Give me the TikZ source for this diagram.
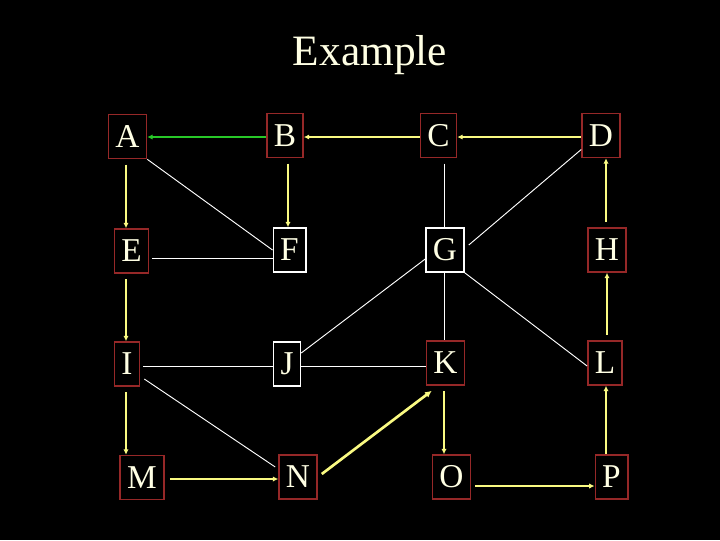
\documentclass[tikz,border=0pt]{standalone}
\usepackage{fontspec}
\setmainfont{Liberation Serif}
\usetikzlibrary{arrows.meta}
\definecolor{bg}{RGB}{0,0,0}
\definecolor{txt}{RGB}{255,255,228}
\definecolor{boxred}{RGB}{150,40,40}
\definecolor{yel}{RGB}{250,250,130}
\definecolor{grn}{RGB}{40,200,40}
\tikzset{
  vbox/.style={draw=boxred, line width=1.2pt, text=txt, minimum height=33pt, inner xsep=5.2pt, inner ysep=0pt, font=\fontsize{25}{25}\selectfont},
  wbox/.style={vbox, draw=white},
  yarr/.style={draw=yel, line width=1.5pt, -{Latex[length=4pt,width=4pt]}},
  garr/.style={draw=grn, line width=1.6pt, -{Latex[length=4pt,width=4pt]}},
  wline/.style={draw=white, line width=0.7pt},
}
\begin{document}
\begin{tikzpicture}[x=0.75pt,y=-0.75pt]
\fill[bg] (0,0) rectangle (720,540);
\useasboundingbox (0,0) rectangle (720,540);
\node[text=txt, font=\fontsize{32.5}{32.5}\selectfont] (title) at (370,55) {Example};
\node[vbox] (A) at (127.5,136.5) {A};
\node[vbox] (B) at (285,135.5) {B};
\node[vbox] (C) at (438.5,135.5) {C};
\node[vbox] (D) at (601,135.5) {D};
\node[vbox] (E) at (131.5,251) {E};
\node[wbox] (F) at (289.5,250) {F};
\node[wbox] (G) at (445,250) {G};
\node[vbox] (H) at (607,250) {H};
\node[vbox] (I) at (127,364) {I};
\node[wbox] (J) at (287,364) {J};
\node[vbox] (K) at (445.5,363) {K};
\node[vbox] (L) at (605,363) {L};
\node[vbox] (M) at (142,477.5) {M};
\node[vbox] (N) at (298,477) {N};
\node[vbox] (O) at (451.5,477) {O};
\node[vbox] (P) at (611.5,477) {P};
% horizontal arrows top row
\draw[garr] ([shift={(0,1.5)}]B.west) -- ([shift={(0,1.5)}]B.west -| A.east);
\draw[yarr] ([shift={(0,1.5)}]C.west) -- ([shift={(0,1.5)}]C.west -| B.east);
\draw[yarr] ([shift={(0,1.5)}]D.west) -- ([shift={(0,1.5)}]D.west -| C.east);
% vertical yellow arrows
\draw[yarr, shorten <=4pt] ([shift={(-1.5,0)}]A.south) -- ([shift={(-1.5,0)}]A.south |- E.north);
\draw[yarr, shorten <=4pt] ([shift={(-1.5,0)}]F.north |- B.south) -- ([shift={(-1.5,0)}]F.north);
\draw[yarr, shorten <=4pt] ([shift={(-1,0)}]I.north |- E.south) -- ([shift={(-1,0)}]I.north);
\draw[yarr, shorten <=4pt] ([shift={(-1,0)}]I.south) -- ([shift={(-1,0)}]I.south |- M.north);
\draw[yarr, shorten <=4pt] ([shift={(-1.5,0)}]K.south) -- ([shift={(-1.5,0)}]K.south |- O.north);
\draw[yarr, shorten <=4pt] ([shift={(-1,0)}]H.north) -- ([shift={(-1,0)}]H.north |- D.south);
\draw[yarr, shorten <=4pt] ([shift={(2,0)}]L.north) -- ([shift={(2,0)}]L.north |- H.south);
\draw[yarr] ([shift={(1,0)}]L.south |- P.north) -- ([shift={(1,0)}]L.south);
% bottom row arrows
\draw[yarr, shorten <=4pt] ([shift={(0,1.5)}]M.east) -- ([shift={(0,1.5)}]M.east -| N.west);
\draw[yarr, shorten <=3pt] ([shift={(0,9)}]O.east) -- ([shift={(0,9)}]O.east -| P.west);
\draw[yel, line width=2pt, -{Latex[length=5pt,width=5pt]}] ([shift={(4,-3)}]N.east) -- ([shift={(6,5)}]K.south west);
% white lines
\draw[wline, shorten <=4pt] ([shift={(-1,0)}]C.south -| G.north) -- ([shift={(-1,0)}]G.north);
\draw[wline] ([shift={(-1,0)}]G.south) -- ([shift={(-1,0)}]G.south |- K.north);
\draw[wline] (A.south east) -- (F.west);
\draw[wline] ([shift={(0,14)}]D.west) -- ([shift={(4,-5)}]G.east);
\draw[wline] ([shift={(3,7)}]E.east) -- ([shift={(0,7)}]E.east -| F.west);
\draw[wline] ([shift={(3,2)}]I.east) -- ([shift={(0,2)}]I.east -| J.west);
\draw[wline] ([shift={(0,2)}]J.east) -- ([shift={(0,2)}]J.east -| K.west);
\draw[wline] ([shift={(0,-11)}]J.east) -- ([shift={(0,9)}]G.west);
\draw[wline] (G.south east) -- ([shift={(0,3)}]L.west);
\draw[wline] ([shift={(4,15)}]I.east) -- ([shift={(-3,-10)}]N.west);
\end{tikzpicture}
\end{document}
